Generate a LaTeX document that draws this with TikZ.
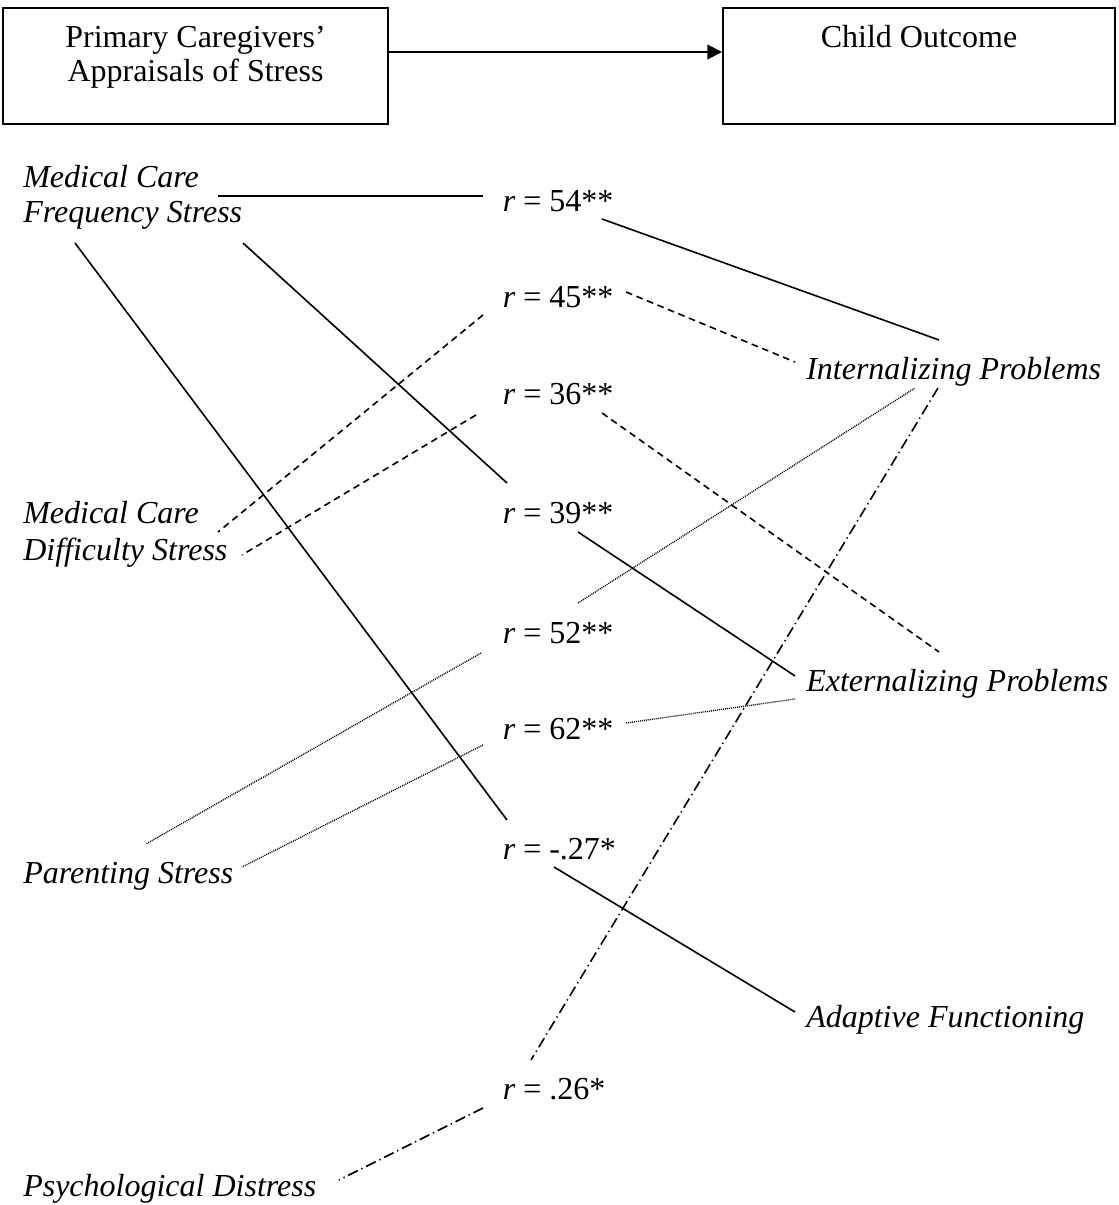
\documentclass[tikz,border=0pt]{standalone}
\usepackage{fontspec}
\setmainfont{Liberation Serif}
\usetikzlibrary{arrows.meta}
\begin{document}
\begin{tikzpicture}[x=0.75pt,y=-0.75pt,
  txt/.style={font=\fontsize{24}{26}\selectfont, inner sep=0pt, anchor=base west},
  var/.style={txt, font=\fontsize{24}{26}\selectfont\itshape},
  ctr/.style={txt, anchor=base},
  box/.style={draw, line width=1.5pt, rectangle, inner sep=0pt},
  solidl/.style={line width=1.2pt},
  dashl/.style={line width=1.2pt, dash pattern=on 5pt off 3.5pt},
  dotl/.style={line width=1pt, dash pattern=on 0.75pt off 0.75pt},
  dashdotl/.style={line width=1.2pt, dash pattern=on 8pt off 3pt on 1pt off 3pt}]
\useasboundingbox[fill=white] (0,0) rectangle (1118,1205);

% top boxes
\node[box, minimum width=288.75pt, minimum height=87pt] (pcb) at (195.5,66) {};
\node[box, minimum width=294pt, minimum height=87pt] (cob) at (919,66) {};
\node[ctr] (pc1) at (195.5,48) {Primary Caregivers'};
\node[ctr] (pc2) at (195.5,82) {Appraisals of Stress};
\node[ctr] (co) at (919,48) {Child Outcome};
\coordinate (ay) at (0,52);
\draw[line width=1.5pt,-{Triangle[length=11pt,width=11pt]}] (pcb.east |- ay) -- (cob.west |- ay);

% left variables
\node[var] (mcf1) at (23,188) {Medical Care};
\node[var] (mcf2) at (23,223) {Frequency Stress};
\node[var] (mcd1) at (23,523) {Medical Care};
\node[var] (mcd2) at (23,560) {Difficulty Stress};
\node[var] (ps) at (23,883) {Parenting Stress};
\node[var] (pd) at (23,1196) {Psychological Distress};

% correlations
\node[txt] (r54) at (502.5,212) {\textit{r} = 54**};
\node[txt] (r45) at (502.5,307) {\textit{r} = 45**};
\node[txt] (r36) at (502.5,404) {\textit{r} = 36**};
\node[txt] (r39) at (502.5,523) {\textit{r} = 39**};
\node[txt] (r52) at (502.5,643) {\textit{r} = 52**};
\node[txt] (r62) at (502.5,739) {\textit{r} = 62**};
\node[txt] (r27) at (502.5,859) {\textit{r} = -.27*};
\node[txt] (r26) at (502.5,1099) {\textit{r} = .26*};

% outcomes
\node[var] (int) at (806,379) {Internalizing Problems};
\node[var] (ext) at (806,691) {Externalizing Problems};
\node[var] (ada) at (806,1027) {Adaptive Functioning};

% connector end points
\coordinate (mcfA) at (218,196);  \coordinate (r54w) at (483,196);
\coordinate (r54e) at (602,219);  \coordinate (intA) at (939,340);
\coordinate (r45e) at (626,292);  \coordinate (intB) at (795,362);
\coordinate (r45w) at (483,315);  \coordinate (mcdA) at (218,532);
\coordinate (r36w) at (476,415);  \coordinate (mcdB) at (242,555);
\coordinate (r36e) at (602,413);  \coordinate (extA) at (939,652);
\coordinate (mcfB) at (243,243);  \coordinate (r39w) at (507,483);
\coordinate (r39e) at (578,532);  \coordinate (extB) at (795,676);
\coordinate (r52e) at (578,603);  \coordinate (intC) at (915,388);
\coordinate (r52w) at (481,653);  \coordinate (psA) at (146,844);
\coordinate (r62e) at (626,723);  \coordinate (extC) at (795,699);
\coordinate (r62w) at (483,745);  \coordinate (psB) at (242,867);
\coordinate (mcfC) at (75,243);   \coordinate (r27w) at (507,820);
\coordinate (r27e) at (554,867);  \coordinate (adaA) at (795,1012);
\coordinate (intD) at (938,388);  \coordinate (r26n) at (531,1060);
\coordinate (r26w) at (483,1108); \coordinate (pdA) at (339,1180);

% connectors
\draw[solidl] (mcfA) -- (r54w);
\draw[solidl] (r54e) -- (intA);
\draw[dashl] (r45e) -- (intB);
\draw[dashl] (r45w) -- (mcdA);
\draw[dashl] (r36w) -- (mcdB);
\draw[dashl] (r36e) -- (extA);
\draw[solidl] (mcfB) -- (r39w);
\draw[solidl] (r39e) -- (extB);
\draw[dotl] (r52e) -- (intC);
\draw[dotl] (r52w) -- (psA);
\draw[dotl] (r62e) -- (extC);
\draw[dotl] (r62w) -- (psB);
\draw[solidl] (mcfC) -- (r27w);
\draw[solidl] (r27e) -- (adaA);
\draw[dashdotl] (intD) -- (r26n);
\draw[dashdotl] (r26w) -- (pdA);
\end{tikzpicture}
\end{document}
